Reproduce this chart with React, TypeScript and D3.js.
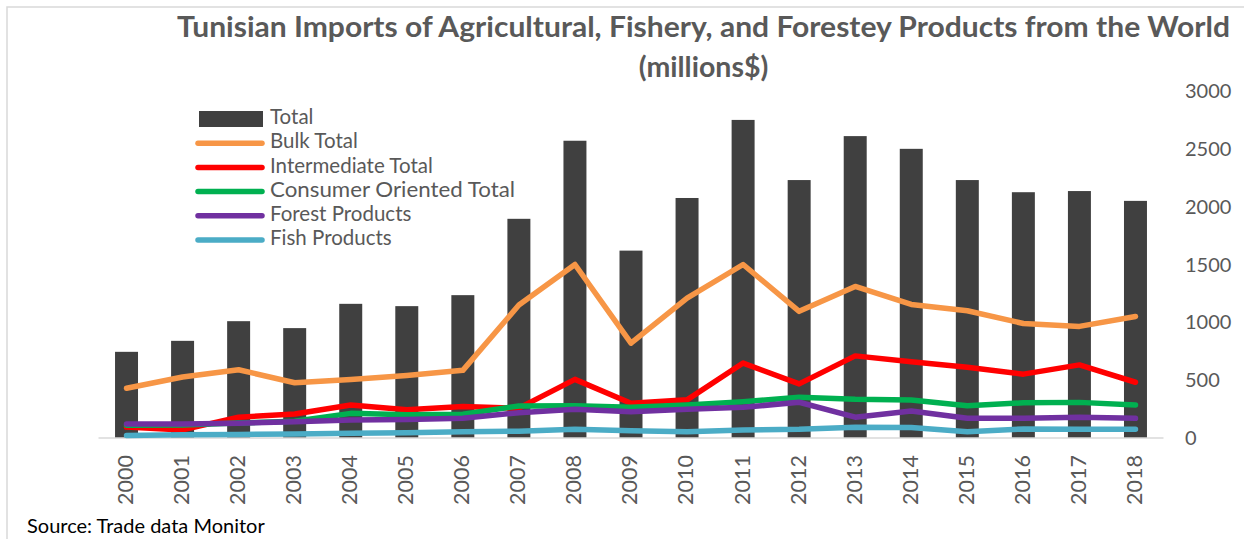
import React from "react";
import * as d3 from "d3";

const years = ["2000","2001","2002","2003","2004","2005","2006","2007","2008","2009","2010","2011","2012","2013","2014","2015","2016","2017","2018"];
const total = [745, 840, 1010, 950, 1160, 1140, 1235, 1895, 2570, 1620, 2075, 2750, 2230, 2610, 2500, 2230, 2125, 2135, 2050];
const bulk = [430, 527, 590, 478, 505, 540, 585, 1150, 1500, 820, 1210, 1500, 1095, 1310, 1155, 1100, 990, 965, 1050];
const intermediate = [95, 70, 180, 207, 285, 245, 272, 258, 507, 300, 330, 648, 468, 710, 660, 612, 552, 632, 482];
const consumer = [110, 112, 130, 145, 213, 200, 205, 277, 278, 265, 285, 314, 352, 334, 328, 278, 305, 308, 286];
const forest = [121, 121, 127, 141, 156, 159, 170, 219, 248, 228, 248, 265, 309, 180, 233, 170, 170, 179, 170];
const fish = [22, 28, 30, 35, 40, 45, 55, 58, 75, 63, 55, 69, 75, 92, 90, 55, 78, 75, 75];
const yTicks = [0, 500, 1000, 1500, 2000, 2500, 3000];

const lineSeries = [
  { name: "Bulk Total", values: bulk, color: "#F79646" },
  { name: "Intermediate Total", values: intermediate, color: "#FF0000" },
  { name: "Consumer Oriented Total", values: consumer, color: "#00B050" },
  { name: "Forest Products", values: forest, color: "#7030A0" },
  { name: "Fish Products", values: fish, color: "#4BACC6" },
];

const W = 1244;
const H = 539;
const FONT = "Lato, 'Open Sans', sans-serif";
const GRAY = "#595959";

export default function App() {
  const x = d3.scaleBand<string>().domain(years).range([98.5, 1163.5]).paddingInner(0.59).paddingOuter(0.295);
  const y = d3.scaleLinear().domain([0, 3000]).range([438, 91]);
  const cx = (yr: string) => (x(yr) as number) + x.bandwidth() / 2;
  const line = d3.line<number>().x((_, i) => cx(years[i])).y((v) => y(v));

  const legendY0 = 119;
  const legendStep = 24.2;

  return (
    <svg width={W} height={H} style={{ position: "absolute", left: 0, top: 0, background: "#fff" }} fontFamily={FONT}>
      <rect x={0} y={0} width={W} height={H} fill="#fff" />
      <rect x={7} y={7} width={W + 20} height={H + 20} fill="none" stroke="#d9d9d9" strokeWidth={1.5} />
      <text x={703.5} y={30} textAnchor="middle" dominantBaseline="middle" fontSize={28.5} fontWeight="bold" fill={GRAY} textLength={1053} lengthAdjust="spacingAndGlyphs">
        Tunisian Imports of Agricultural, Fishery, and Forestey Products from the World
      </text>
      <text x={703.5} y={70} textAnchor="middle" dominantBaseline="middle" fontSize={28.5} fontWeight="bold" fill={GRAY}>
        (millions$)
      </text>

      {total.map((v, i) => (
        <rect key={years[i]} x={x(years[i])} y={y(v)} width={x.bandwidth()} height={y(0) - y(v)} fill="#404040" />
      ))}

      <line x1={98.5} x2={1163.5} y1={y(0)} y2={y(0)} stroke="#d9d9d9" strokeWidth={1.5} />

      {lineSeries.map((s) => (
        <path key={s.name} d={line(s.values) || ""} fill="none" stroke={s.color} strokeWidth={5.5} strokeLinecap="round" strokeLinejoin="round" />
      ))}

      {yTicks.map((t) => (
        <text key={t} x={1185} y={y(t) + 2} dominantBaseline="middle" fontSize={20} fill={GRAY}>
          {t}
        </text>
      ))}

      {years.map((yr) => (
        <text key={yr} transform={`translate(${cx(yr) + 1},${455}) rotate(-90)`} textAnchor="end" dominantBaseline="middle" fontSize={21.5} fill={GRAY}>
          {yr}
        </text>
      ))}

      <g>
        <rect x={199} y={111} width={64} height={16} fill="#404040" />
        <text x={270} y={legendY0} dominantBaseline="middle" fontSize={20.5} fill={GRAY}>Total</text>
        {lineSeries.map((s, i) => (
          <g key={s.name}>
            <line x1={198} x2={262} y1={legendY0 + (i + 1) * legendStep} y2={legendY0 + (i + 1) * legendStep} stroke={s.color} strokeWidth={5.5} strokeLinecap="round" />
            <text x={270} y={legendY0 + (i + 1) * legendStep} dominantBaseline="middle" fontSize={20.5} fill={GRAY} textLength={s.name === "Consumer Oriented Total" ? 245 : undefined} lengthAdjust="spacingAndGlyphs">{s.name}</text>
          </g>
        ))}
      </g>

      <text x={27} y={528} dominantBaseline="middle" fontSize={20} fill="#000">Source: Trade data Monitor</text>
    </svg>
  );
}
